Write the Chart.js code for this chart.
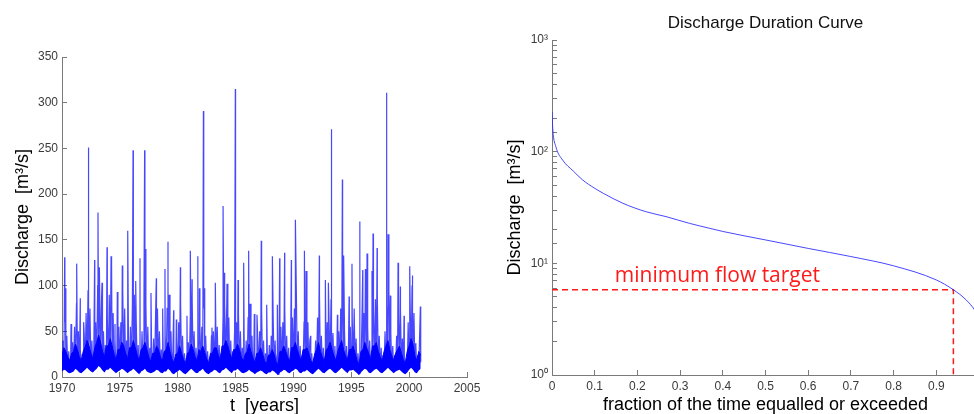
<!DOCTYPE html>
<html>
<head>
<meta charset="utf-8">
<script src="https://cdn.jsdelivr.net/npm/chart.js@4.4.0/dist/chart.umd.min.js"></script>
<style>
  html, body { margin: 0; padding: 0; background: #fff; overflow: hidden; width: 974px; height: 414px; }
  #flowChart { position: absolute; left: 0; top: 0; }
  #durationChart { position: absolute; left: 490px; top: 0; }
</style>
</head>
<body>
<canvas id="flowChart" width="480" height="414"></canvas>
<canvas id="durationChart" width="500" height="414"></canvas>
<script>
"use strict";

// daily discharge, read off roughly: one row per year (1970..2001),
// alternating troughs and crests through the months
const firstYear = 1970;
const monthlyFlow = [
  [8, 40, 14, 60, 10, 45, 6, 28, 5, 22, 7, 38],
  [9, 55, 12, 80, 10, 50, 7, 30, 5, 25, 8, 48],
  [12, 70, 16, 95, 14, 75, 9, 40, 6, 30, 10, 60],
  [14, 100, 18, 120, 16, 85, 11, 50, 8, 35, 12, 65],
  [12, 90, 16, 100, 12, 70, 9, 40, 6, 28, 9, 55],
  [10, 60, 14, 95, 12, 75, 8, 40, 6, 30, 10, 55],
  [11, 80, 15, 90, 12, 60, 8, 35, 5, 25, 9, 50],
  [10, 85, 14, 80, 9, 55, 7, 32, 5, 24, 8, 42],
  [8, 65, 12, 75, 10, 50, 7, 30, 5, 22, 8, 45],
  [9, 75, 12, 90, 10, 50, 6, 28, 4, 20, 7, 40],
  [8, 60, 11, 80, 9, 45, 6, 26, 4, 20, 7, 38],
  [9, 65, 12, 85, 10, 50, 7, 32, 5, 24, 9, 55],
  [10, 55, 13, 75, 9, 45, 6, 28, 4, 20, 8, 45],
  [9, 50, 11, 60, 10, 55, 8, 35, 6, 26, 10, 65],
  [12, 80, 14, 90, 12, 65, 9, 40, 6, 28, 10, 50],
  [10, 60, 12, 70, 10, 50, 7, 32, 5, 22, 8, 40],
  [9, 65, 11, 80, 9, 45, 7, 30, 5, 20, 8, 42],
  [8, 50, 10, 75, 8, 40, 6, 26, 4, 18, 7, 35],
  [7, 45, 9, 65, 8, 40, 5, 24, 3, 18, 7, 55],
  [9, 60, 11, 75, 10, 45, 7, 32, 5, 22, 9, 65],
  [10, 75, 13, 95, 11, 50, 8, 34, 6, 24, 9, 60],
  [9, 75, 11, 60, 9, 40, 6, 26, 4, 20, 8, 40],
  [10, 65, 12, 90, 10, 45, 7, 32, 5, 22, 9, 60],
  [11, 60, 13, 85, 10, 48, 8, 34, 6, 24, 9, 50],
  [12, 75, 14, 100, 11, 50, 8, 34, 6, 26, 10, 55],
  [10, 65, 12, 75, 9, 42, 6, 26, 4, 18, 7, 60],
  [10, 70, 13, 95, 11, 55, 8, 40, 5, 28, 9, 75],
  [11, 85, 13, 90, 10, 45, 7, 32, 5, 24, 9, 50],
  [12, 80, 14, 95, 11, 48, 8, 34, 6, 24, 9, 45],
  [10, 65, 12, 75, 9, 42, 6, 26, 4, 20, 8, 60],
  [11, 85, 14, 100, 12, 70, 8, 34, 6, 24, 10, 50],
  [16]
];

// the solid part of the record: low and high daily flows, every two months
const bandLow = [
  [6, 8, 7, 5, 4, 5], [6, 9, 7, 5, 4, 6], [8, 10, 8, 6, 5, 7], [9, 12, 10, 7, 5, 8],
  [8, 10, 8, 6, 4, 6], [7, 9, 8, 6, 4, 6], [7, 9, 7, 5, 3, 6], [7, 9, 6, 5, 4, 5],
  [6, 8, 7, 5, 4, 6], [6, 9, 7, 4, 3, 5], [6, 8, 6, 4, 3, 5], [7, 9, 7, 5, 4, 6],
  [7, 9, 6, 4, 3, 5], [6, 8, 7, 5, 4, 7], [8, 10, 8, 6, 4, 7], [7, 9, 7, 5, 4, 5],
  [6, 8, 6, 5, 3, 5], [6, 7, 6, 4, 3, 5], [5, 7, 6, 4, 2, 5], [6, 8, 7, 5, 4, 6],
  [7, 9, 8, 5, 4, 6], [6, 8, 6, 4, 3, 5], [7, 9, 7, 5, 4, 6], [8, 9, 7, 5, 4, 6],
  [8, 10, 8, 6, 4, 7], [7, 8, 6, 4, 2, 5], [7, 9, 8, 5, 4, 6], [8, 9, 7, 5, 4, 6],
  [8, 10, 8, 6, 4, 6], [7, 8, 6, 4, 3, 5], [8, 10, 8, 5, 4, 7], [9]
];
const bandHigh = [
  [24, 32, 28, 22, 18, 26], [28, 36, 30, 22, 18, 28], [33, 40, 34, 26, 20, 32], [38, 46, 38, 28, 22, 34],
  [34, 42, 34, 25, 19, 30], [30, 38, 34, 26, 20, 32], [32, 40, 32, 24, 18, 30], [32, 38, 30, 22, 17, 26],
  [26, 34, 30, 22, 17, 28], [30, 38, 28, 20, 16, 25], [26, 34, 26, 19, 15, 26], [28, 36, 30, 22, 18, 30],
  [28, 34, 27, 20, 15, 26], [26, 32, 32, 24, 19, 34], [34, 40, 34, 26, 20, 30], [30, 36, 30, 22, 17, 25],
  [28, 36, 28, 21, 16, 26], [26, 32, 25, 18, 14, 24], [24, 30, 25, 17, 14, 28], [28, 34, 28, 22, 17, 32],
  [32, 38, 30, 23, 18, 30], [30, 32, 26, 18, 15, 25], [30, 38, 28, 22, 17, 30], [32, 38, 30, 23, 18, 28],
  [34, 40, 30, 23, 19, 30], [30, 34, 26, 18, 14, 28], [30, 38, 32, 26, 19, 34], [34, 38, 28, 22, 18, 28],
  [34, 40, 30, 23, 18, 26], [30, 34, 26, 19, 15, 28], [34, 42, 36, 23, 18, 28], [24]
];

// flood peaks (time in years, discharge m3/s)
const peakTimes = [
  1970.23, 1970.29, 1970.78, 1971.27, 1971.58, 1971.87, 1972.25, 1972.30, 1972.82,
  1973.11, 1973.23, 1973.46, 1973.89, 1974.24, 1974.32, 1974.58, 1974.78, 1975.21,
  1975.68, 1976.14, 1976.37, 1976.74, 1977.14, 1977.20, 1977.69, 1978.15, 1978.70,
  1978.90, 1979.16, 1979.65, 1979.88, 1980.23, 1980.80, 1981.09, 1981.24, 1981.73,
  1981.87, 1982.22, 1982.30, 1982.96, 1983.25, 1983.92, 1984.03, 1984.26, 1984.98,
  1985.21, 1985.70, 1986.13, 1986.62, 1986.85, 1987.22, 1987.69, 1988.18, 1988.61,
  1988.81, 1989.24, 1989.82, 1990.17, 1990.95, 1991.09, 1991.49, 1992.24, 1992.76,
  1993.02, 1993.25, 1993.80, 1994.23, 1994.34, 1994.81, 1995.06, 1995.73, 1995.99,
  1996.22, 1996.36, 1996.79, 1996.88, 1997.23, 1998.03, 1998.18, 1998.38, 1999.04,
  1999.24, 1999.56, 2000.05, 2000.25, 2000.57, 2000.97
];
const peakValues = [
  131, 97, 58, 124, 86, 60, 251, 133, 128,
  180, 120, 103, 142, 132, 122, 58, 93, 122,
  160, 248, 105, 130, 248, 140, 92, 108, 75,
  118, 148, 73, 63, 120, 67, 138, 107, 132,
  97, 291, 97, 54, 103, 187, 114, 102, 315,
  106, 125, 138, 69, 68, 149, 79, 132, 79,
  130, 136, 128, 172, 138, 116, 45, 133, 106,
  103, 271, 68, 216, 133, 88, 124, 170, 117,
  118, 135, 116, 157, 141, 311, 156, 89, 125,
  99, 67, 121, 111, 37, 77
];

// duration curve
const durationFraction = [0, 0.002, 0.009, 0.025, 0.05, 0.072, 0.1, 0.12, 0.166, 0.22, 0.267, 0.322, 0.369, 0.4, 0.5, 0.6, 0.7, 0.8, 0.9, 0.94, 0.97, 0.99, 1.0];
const durationDischarge = [228, 156, 111, 84, 67, 55.7, 47, 42.4, 34.5, 29, 26.2, 22.8, 20.6, 19.3, 16.2, 13.6, 11.5, 9.5, 7.1, 5.8, 4.7, 3.8, 3.2];
const targetFlow = 5.8;
const targetFraction = 0.94;

let flowPoints = [];
monthlyFlow.forEach((row, i) => {
  row.forEach((v, m) => flowPoints.push({ x: firstYear + i + m / 12, y: v }));
});
peakTimes.forEach((t, i) => flowPoints.push({ x: t, y: peakValues[i] }));
flowPoints.sort((a, b) => a.x - b.x);

function bandPoints(rows) {
  let pts = [];
  rows.forEach((row, i) => {
    row.forEach((v, k) => pts.push({ x: firstYear + i + k / 6, y: v }));
  });
  return pts;
}

const tickFont = { family: "'Liberation Sans', Arial, sans-serif", size: 12 };
const titleFont = { family: "'Liberation Sans', Arial, sans-serif", size: 18, lineHeight: 1.2 };
const axisGray = "#7a7a7a";
const labelGray = "#3a3a3a";

function axisGrid() {
  return {
    drawOnChartArea: false,
    drawTicks: true,
    tickLength: -5,
    color: axisGray,
    tickColor: axisGray
  };
}

function fixX(h) {
  return (scale) => {
    scale.height = h;
    scale.paddingLeft = 0;
    scale.paddingRight = 0;
  };
}

function fixY(w) {
  return (scale) => {
    scale.width = w;
    scale.paddingTop = 0;
    scale.paddingBottom = 0;
  };
}

new Chart(document.getElementById("flowChart"), {
  type: "line",
  data: {
    datasets: [
      {
        data: bandPoints(bandLow),
        borderWidth: 0,
        pointRadius: 0,
        fill: false
      },
      {
        data: bandPoints(bandHigh),
        borderColor: "#0000ff",
        borderWidth: 1,
        backgroundColor: "#0000ff",
        pointRadius: 0,
        fill: "-1"
      },
      {
        data: flowPoints,
        borderColor: "rgba(0, 0, 255, 0.72)",
        borderWidth: 1.2,
        pointRadius: 0,
        tension: 0
      }
    ]
  },
  options: {
    responsive: false,
    animation: false,
    events: [],
    layout: { padding: { left: 0, right: 13, top: 57, bottom: 0 } },
    plugins: { legend: { display: false }, tooltip: { enabled: false } },
    scales: {
      x: {
        type: "linear",
        min: 1970,
        max: 2005,
        grid: axisGrid(),
        border: { color: axisGray, width: 1 },
        ticks: { stepSize: 5, font: tickFont, color: labelGray, padding: 9, maxRotation: 0, callback: (v) => String(v) },
        title: { display: true, text: "t  [years]", color: "#000", font: { ...titleFont, lineHeight: 0.9 }, padding: 0 },
        afterFit: fixX(37)
      },
      y: {
        min: 0,
        max: 350,
        grid: axisGrid(),
        border: { color: axisGray, width: 1 },
        ticks: { stepSize: 50, font: tickFont, color: labelGray, padding: 9 },
        title: { display: true, text: "Discharge  [m³/s]", color: "#000", font: titleFont, padding: { top: 12, bottom: 0 } },
        afterFit: fixY(62)
      }
    }
  }
});

// title and the label of the target line
const durationLabels = {
  id: "durationLabels",
  afterDraw(chart) {
    const ctx = chart.ctx;
    const area = chart.chartArea;
    const xs = chart.scales.x;
    const ys = chart.scales.y;
    ctx.save();
    ctx.fillStyle = "#111";
    ctx.font = "17px 'Liberation Sans', Arial, sans-serif";
    ctx.textAlign = "center";
    ctx.textBaseline = "middle";
    ctx.fillText("Discharge Duration Curve", (area.left + area.right) / 2, 23);
    ctx.fillStyle = "#ff1a1a";
    ctx.font = "21px 'Open Sans', sans-serif";
    ctx.textAlign = "left";
    ctx.textBaseline = "alphabetic";
    ctx.fillText("minimum flow target", xs.getPixelForValue(0.147), ys.getPixelForValue(6.8));
    ctx.restore();
  }
};

new Chart(document.getElementById("durationChart"), {
  type: "line",
  data: {
    datasets: [
      {
        data: durationFraction.map((f, i) => ({ x: f, y: durationDischarge[i] })),
        borderColor: "rgba(40, 40, 255, 0.85)",
        borderWidth: 1,
        pointRadius: 0,
        cubicInterpolationMode: "monotone"
      },
      {
        data: [{ x: 0, y: targetFlow }, { x: targetFraction, y: targetFlow }, { x: targetFraction, y: 1 }],
        borderColor: "#ff1a1a",
        borderWidth: 1.5,
        borderDash: [6, 4],
        pointRadius: 0,
        tension: 0
      }
    ]
  },
  options: {
    responsive: false,
    animation: false,
    events: [],
    layout: { padding: { left: 0, right: 11, top: 40, bottom: 0 } },
    plugins: { legend: { display: false }, tooltip: { enabled: false } },
    scales: {
      x: {
        type: "linear",
        min: 0,
        max: 1,
        grid: axisGrid(),
        border: { color: axisGray, width: 1 },
        ticks: {
          stepSize: 0.1,
          font: tickFont,
          color: labelGray,
          padding: 9,
          maxRotation: 0,
          autoSkip: false,
          callback: (v) => (v >= 1 ? "" : String(Math.round(v * 10) / 10))
        },
        title: { display: true, text: "fraction of the time equalled or exceeded", color: "#000", font: { ...titleFont, lineHeight: 1.0 }, padding: 0 },
        afterFit: fixX(39)
      },
      y: {
        type: "logarithmic",
        min: 1,
        max: 1000,
        grid: axisGrid(),
        border: { color: axisGray, width: 1 },
        ticks: {
          font: tickFont,
          color: labelGray,
          padding: 9,
          autoSkip: false,
          callback: (v) => {
            const sup = { 1: "⁰", 10: "¹", 100: "²", 1000: "³" };
            return sup[v] ? "10" + sup[v] : "";
          }
        },
        title: { display: true, text: "Discharge  [m³/s]", color: "#000", font: titleFont, padding: { top: 14, bottom: 0 } },
        afterFit: fixY(62)
      }
    }
  },
  plugins: [durationLabels]
});
</script>
</body>
</html>
